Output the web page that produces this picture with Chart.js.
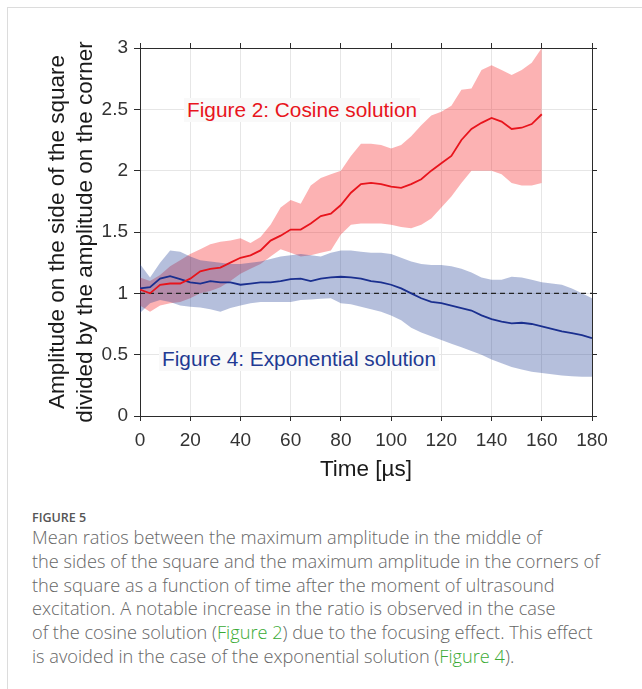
<!DOCTYPE html>
<html>
<head>
<meta charset="utf-8">
<script src="https://cdn.jsdelivr.net/npm/chart.js@4.4.1/dist/chart.umd.min.js"></script>
<style>
  body { margin: 0; background: #fff; width: 642px; height: 689px; overflow: hidden; position: relative; font-family: 'Liberation Sans', Arial, sans-serif; }
  #card { position: absolute; left: 7px; top: 7px; width: 700px; height: 700px; border: 1px solid #dcdcdc; }
  #wrap { position: absolute; left: 0; top: 0; width: 642px; height: 490px; }
  .note { position: absolute; font-size: 20.8px; line-height: 24px; background: #f9f9f9; padding: 0 3px; white-space: nowrap; }
  #fig { position: absolute; left: 32px; top: 510px; font-family: 'Open Sans', sans-serif; font-size: 12.5px; font-weight: 600; color: #555; line-height: 16px; }
  #cap { position: absolute; left: 32px; top: 526px; font-family: 'Open Sans', sans-serif; font-size: 18.2px; font-weight: 300; color: #666; line-height: 23.8px; white-space: nowrap; }
  #cap span { color: #3aaa35; }
</style>
</head>
<body>
<div id="card"></div>
<div id="wrap"><canvas id="grafico" width="642" height="490"></canvas></div>
<div class="note" style="left:184px; top:98px; color:#e8141c;">Figure 2: Cosine solution</div>
<div class="note" style="left:159px; top:347px; color:#1f3a93;">Figure 4: Exponential solution</div>
<div id="fig">FIGURE 5</div>
<div id="cap">Mean ratios between the maximum amplitude in the middle of<br>the sides of the square and the maximum amplitude in the corners of<br>the square as a function of time after the moment of ultrasound<br>excitation. A notable increase in the ratio is observed in the case<br>of the cosine solution (<span>Figure 2</span>) due to the focusing effect. This effect<br>is avoided in the case of the exponential solution (<span>Figure 4</span>).</div>
<script>
// tempo em microssegundos (grade de 4 us)
const tempo = [0, 4, 8, 12, 16, 20, 24, 28, 32, 36, 40, 44, 48, 52, 56, 60, 64, 68, 72, 76, 80,
  84, 88, 92, 96, 100, 104, 108, 112, 116, 120, 124, 128, 132, 136, 140, 144, 148, 152, 156, 160,
  164, 168, 172, 176, 180];

// Figure 2: cosine solution (0..160 us)
const cosMedia = [1.03, 1.00, 1.07, 1.08, 1.08, 1.12, 1.18, 1.20, 1.21, 1.25, 1.29, 1.31, 1.35, 1.43, 1.47, 1.52,
  1.52, 1.57, 1.63, 1.65, 1.72, 1.82, 1.89, 1.90, 1.89, 1.87, 1.86, 1.89, 1.93, 2.00, 2.06, 2.12, 2.25, 2.34,
  2.39, 2.43, 2.40, 2.34, 2.35, 2.38, 2.46];
const cosSuperior = [1.13, 1.10, 1.15, 1.22, 1.27, 1.32, 1.36, 1.40, 1.42, 1.43, 1.45, 1.41, 1.46, 1.56, 1.70, 1.76,
  1.73, 1.88, 1.94, 1.97, 2.00, 2.12, 2.22, 2.22, 2.21, 2.18, 2.21, 2.28, 2.37, 2.45, 2.48, 2.53, 2.66, 2.67,
  2.82, 2.86, 2.82, 2.78, 2.82, 2.88, 3.00];
const cosInferior = [0.90, 0.85, 0.90, 0.92, 0.93, 0.96, 1.00, 1.02, 1.05, 1.10, 1.16, 1.20, 1.24, 1.30, 1.36, 1.33,
  1.30, 1.31, 1.33, 1.35, 1.48, 1.56, 1.57, 1.57, 1.57, 1.56, 1.54, 1.53, 1.56, 1.61, 1.70, 1.79, 1.90, 2.00,
  2.00, 2.00, 1.97, 1.90, 1.88, 1.88, 1.90];

// Figure 4: exponential solution (0..180 us)
const expMedia = [1.04, 1.05, 1.12, 1.14, 1.115, 1.09, 1.08, 1.10, 1.09, 1.09, 1.07, 1.08, 1.09, 1.09, 1.10, 1.115,
  1.12, 1.10, 1.12, 1.13, 1.135, 1.13, 1.12, 1.10, 1.09, 1.07, 1.04, 1.00, 0.96, 0.93, 0.92, 0.90, 0.88, 0.86,
  0.82, 0.79, 0.77, 0.755, 0.76, 0.75, 0.73, 0.71, 0.69, 0.675, 0.66, 0.635];
const expSuperior = [1.24, 1.13, 1.25, 1.35, 1.34, 1.30, 1.27, 1.26, 1.25, 1.24, 1.24, 1.25, 1.26, 1.28, 1.30, 1.31,
  1.32, 1.31, 1.30, 1.33, 1.35, 1.35, 1.34, 1.33, 1.33, 1.32, 1.29, 1.26, 1.24, 1.23, 1.23, 1.22, 1.20, 1.17,
  1.13, 1.11, 1.11, 1.135, 1.13, 1.11, 1.09, 1.08, 1.07, 1.04, 1.00, 0.96];
const expInferior = [0.84, 0.92, 0.945, 0.93, 0.90, 0.89, 0.885, 0.87, 0.85, 0.88, 0.90, 0.92, 0.93, 0.93, 0.93, 0.93,
  0.945, 0.95, 0.955, 0.96, 0.92, 0.91, 0.89, 0.87, 0.85, 0.82, 0.78, 0.72, 0.68, 0.65, 0.62, 0.59, 0.56, 0.53,
  0.50, 0.46, 0.43, 0.40, 0.38, 0.36, 0.35, 0.34, 0.33, 0.325, 0.32, 0.32];

const referencia = [1, 1];
const referenciaTempo = [0, 180];

const pontos = (xs, ys) => ys.map((v, i) => ({ x: xs[i], y: v }));

const corEixo = '#2b2b2b';
const corGrade = '#e6e6e6';
const fonteTicks = { family: "'Liberation Sans', Arial, sans-serif", size: 19 };
const fonteTitulo = { family: "'Liberation Sans', Arial, sans-serif", size: 22.5, lineHeight: 1.24 };

const ctx = document.getElementById('grafico').getContext('2d');
const grafico = new Chart(ctx, {
  type: 'line',
  data: {
    datasets: [
      { data: pontos(tempo, cosMedia), borderColor: '#e8141c', borderWidth: 1.8, pointRadius: 0, fill: false, order: 0 },
      { data: pontos(tempo, expMedia), borderColor: '#1a2f8f', borderWidth: 1.8, pointRadius: 0, fill: false, order: 1 },
      { data: pontos(referenciaTempo, referencia), borderColor: '#222', borderWidth: 1.3, borderDash: [5, 4], pointRadius: 0, fill: false, order: 2 },
      { data: pontos(tempo, expSuperior), borderWidth: 0, pointRadius: 0, fill: '+1', backgroundColor: 'rgba(30, 60, 150, 0.33)', order: 3 },
      { data: pontos(tempo, expInferior), borderWidth: 0, pointRadius: 0, fill: false, order: 4 },
      { data: pontos(tempo, cosSuperior), borderWidth: 0, pointRadius: 0, fill: '+1', backgroundColor: 'rgba(245, 20, 25, 0.33)', order: 5 },
      { data: pontos(tempo, cosInferior), borderWidth: 0, pointRadius: 0, fill: false, order: 6 }
    ]
  },
  options: {
    responsive: false,
    animation: false,
    devicePixelRatio: 1,
    layout: { padding: { left: 0, top: 43, right: 45, bottom: 4 } },
    plugins: { legend: { display: false }, tooltip: { enabled: false } },
    elements: { line: { tension: 0 } },
    scales: {
      x: {
        type: 'linear', position: 'bottom', min: 0, max: 180,
        ticks: { stepSize: 20, font: fonteTicks, color: '#333', padding: 8, maxRotation: 0 },
        grid: { color: corGrade, tickColor: corEixo, tickLength: 5 },
        border: { color: corEixo, width: 1 },
        title: { display: true, text: 'Time [µs]', font: fonteTitulo, color: '#1a1a1a', padding: { top: 0, bottom: 2 } },
        afterFit: s => { s.height = 70; }
      },
      x2: {
        type: 'linear', position: 'top', min: 0, max: 180,
        ticks: { stepSize: 20, display: false },
        grid: { drawOnChartArea: false, tickColor: corEixo, tickLength: 5 },
        border: { color: corEixo, width: 1 },
        afterFit: s => { s.height = 5; }
      },
      y: {
        type: 'linear', position: 'left', min: 0, max: 3,
        ticks: { stepSize: 0.5, font: fonteTicks, color: '#333', padding: 6, callback: v => String(v) },
        grid: { color: corGrade, tickColor: corEixo, tickLength: 6 },
        border: { color: corEixo, width: 1 },
        title: {
          display: true,
          text: ['Amplitude on the side of the square', 'divided by the amplitude on the corner'],
          font: fonteTitulo, color: '#1a1a1a', padding: { top: 44, bottom: 0 }
        },
        afterFit: s => { s.width = 140; }
      },
      y2: {
        type: 'linear', position: 'right', min: 0, max: 3,
        ticks: { stepSize: 0.5, display: false },
        grid: { drawOnChartArea: false, tickColor: corEixo, tickLength: 5 },
        border: { color: corEixo, width: 1 },
        afterFit: s => { s.width = 5; }
      }
    }
  }
});
</script>
</body>
</html>
